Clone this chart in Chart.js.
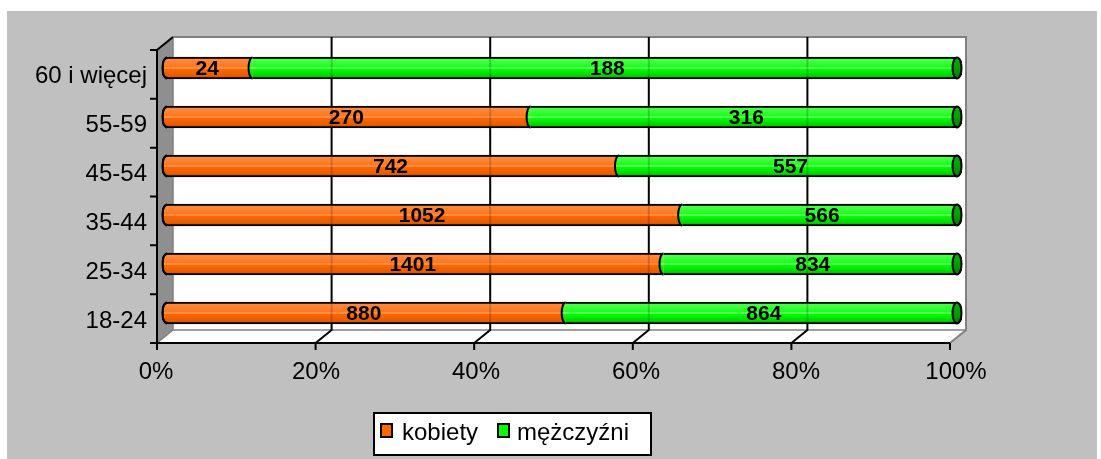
<!DOCTYPE html>
<html>
<head>
<meta charset="utf-8">
<script src="https://cdn.jsdelivr.net/npm/chart.js@4/dist/chart.umd.min.js"></script>
<style>
  html, body { margin: 0; padding: 0; background: #fff; }
  canvas { display: block; }
</style>
</head>
<body>
<canvas id="myChart" width="1101" height="459"></canvas>
<script>
const categories = ['60 i więcej', '55-59', '45-54', '35-44', '25-34', '18-24'];
const kobiety = [24, 270, 742, 1052, 1401, 880];
const mezczyzni = [188, 316, 557, 566, 834, 864];
const xTicks = [0, 20, 40, 60, 80, 100];
const seriesNames = ['kobiety', 'mężczyźni'];

const FONT = '"Liberation Sans", Arial, sans-serif';

// 100% stacked: share of each group in its row
const kobietyPct = kobiety.map((v, i) => v / (v + mezczyzni[i]) * 100);
const mezczyzniPct = mezczyzni.map((v, i) => v / (kobiety[i] + v) * 100);
const rawValues = [kobiety, mezczyzni];

const canvas = document.getElementById('myChart');

function cylinder(ctx, stops, fallback) {
    const chart = ctx.chart;
    if (!chart.chartArea || !chart.scales.y) return fallback;
    const yc = chart.scales.y.getPixelForValue(ctx.dataIndex);
    const g = chart.ctx.createLinearGradient(0, yc - 11, 0, yc + 11);
    stops.forEach(s => g.addColorStop(s[0], s[1]));
    return g;
}

const orangeStops = [[0, '#e85c00'], [0.12, '#ff8a3d'], [0.45, '#ff761f'], [0.5, '#ffa466'], [0.56, '#ff6600'], [0.85, '#e65c00'], [1, '#b84a00']];
const greenStops = [[0, '#00c800'], [0.12, '#4dff4d'], [0.45, '#1aff1a'], [0.5, '#8cff8c'], [0.56, '#00ff00'], [0.85, '#00d400'], [1, '#009c00']];

// geometry of the fake 3D box, taken from the scales
function box(chart) {
    const x = chart.scales.x, a = chart.chartArea;
    const L = x.getPixelForValue(0), R = x.getPixelForValue(100);
    const fx = v => L - 5 + (R - L - 7) * v / 100;
    const bx = v => fx(v) + 16;
    return {
        fx, bx,
        backTop: a.top - 6.5, backBottom: a.bottom - 7.5,
        frontTop: a.top + 6.5, frontBottom: a.bottom + 5.5
    };
}

const backdrop = {
    id: 'backdrop',
    beforeDraw(chart) {
        const c = chart.ctx;
        const b = box(chart);
        c.save();
        c.fillStyle = '#ffffff';
        c.fillRect(0, 0, chart.width, chart.height);
        c.fillStyle = '#c0c0c0';
        c.fillRect(7, 11, 1090, chart.height - 11);

        // back wall
        c.fillStyle = '#ffffff';
        c.fillRect(b.bx(0), b.backTop, b.bx(100) - b.bx(0), b.backBottom - b.backTop);
        // left wall
        c.fillStyle = '#8f8f8f';
        c.beginPath();
        c.moveTo(b.fx(0), b.frontTop);
        c.lineTo(b.bx(0), b.backTop);
        c.lineTo(b.bx(0), b.backBottom);
        c.lineTo(b.fx(0), b.frontBottom);
        c.closePath();
        c.fill();
        // floor
        c.fillStyle = '#ffffff';
        c.beginPath();
        c.moveTo(b.bx(0), b.backBottom);
        c.lineTo(b.bx(100), b.backBottom);
        c.lineTo(b.fx(100), b.frontBottom);
        c.lineTo(b.fx(0), b.frontBottom);
        c.closePath();
        c.fill();

        // grey outline of the box
        c.strokeStyle = '#808080';
        c.lineWidth = 2;
        c.beginPath();
        c.moveTo(b.bx(0), b.backTop);
        c.lineTo(b.bx(100), b.backTop);
        c.lineTo(b.bx(100), b.backBottom);
        c.lineTo(b.fx(100), b.frontBottom);
        c.stroke();
        c.lineWidth = 1.5;
        c.beginPath();
        c.moveTo(b.bx(0), b.backTop);
        c.lineTo(b.bx(0), b.backBottom);
        c.lineTo(b.bx(100), b.backBottom);
        c.moveTo(b.bx(0), b.backBottom);
        c.lineTo(b.fx(0), b.frontBottom);
        c.stroke();

        // gridlines on back wall and floor
        c.strokeStyle = '#000';
        c.lineWidth = 2;
        c.beginPath();
        xTicks.slice(1, -1).forEach(v => {
            c.moveTo(b.bx(v), b.backTop);
            c.lineTo(b.bx(v), b.backBottom);
            c.lineTo(b.fx(v), b.frontBottom);
        });
        c.stroke();

        // front axes
        c.beginPath();
        c.moveTo(b.fx(0), b.frontBottom);
        c.lineTo(b.fx(100), b.frontBottom);
        xTicks.forEach(v => {
            c.moveTo(b.fx(v), b.frontBottom);
            c.lineTo(b.fx(v), b.frontBottom + 7);
        });
        c.moveTo(b.fx(0), b.frontBottom + 7);
        c.lineTo(b.fx(0), b.frontTop);
        c.lineTo(b.bx(0), b.backTop);
        const step = (b.frontBottom - b.frontTop) / categories.length;
        for (let k = 0; k <= categories.length; k++) {
            const yy = b.frontTop + k * step;
            c.moveTo(b.fx(0) - 7, yy);
            c.lineTo(b.fx(0), yy);
        }
        c.stroke();
        c.restore();
    }
};

const barDetails = {
    id: 'barDetails',
    afterDatasetsDraw(chart) {
        const c = chart.ctx;
        const b = box(chart);
        const m0 = chart.getDatasetMeta(0), m1 = chart.getDatasetMeta(1);
        c.save();
        // left end rim of the cylinders
        m0.data.forEach(el => {
            c.beginPath();
            c.ellipse(el.base + 5, el.y, 4.5, 10.5, 0, Math.PI / 2, Math.PI * 1.5);
            c.strokeStyle = '#000';
            c.lineWidth = 2;
            c.stroke();
        });
        m1.data.forEach((el, i) => {
            const yc = el.y, ry = 10.5;
            const g = cylinder({chart, dataIndex: i}, greenStops, '#00ff00');
            // seam between the two parts
            c.beginPath();
            c.ellipse(el.base, yc, 4, ry, 0, Math.PI / 2, Math.PI * 1.5);
            c.closePath();
            c.fillStyle = g;
            c.fill();
            c.beginPath();
            c.ellipse(el.base, yc, 4, ry, 0, Math.PI / 2, Math.PI * 1.5);
            c.strokeStyle = '#000';
            c.lineWidth = 2;
            c.stroke();
            // right end cap
            const cg = c.createLinearGradient(0, yc - ry, 0, yc + ry);
            cg.addColorStop(0, '#00b000');
            cg.addColorStop(0.5, '#00a000');
            cg.addColorStop(1, '#007a00');
            c.beginPath();
            c.ellipse(el.x - 5, yc, 4.5, ry, 0, 0, Math.PI * 2);
            c.fillStyle = cg;
            c.fill();
            c.stroke();
        });
        // gridlines faintly visible through the bars
        c.strokeStyle = 'rgba(0,0,0,0.18)';
        c.lineWidth = 2;
        c.beginPath();
        m1.data.forEach(el => {
            xTicks.slice(1, -1).forEach(v => {
                c.moveTo(b.bx(v), el.y - 9);
                c.lineTo(b.bx(v), el.y + 9);
            });
        });
        c.stroke();
        // value labels
        c.fillStyle = '#000';
        c.font = 'bold 21px ' + FONT;
        c.textAlign = 'center';
        c.textBaseline = 'middle';
        [m0, m1].forEach((meta, d) => {
            meta.data.forEach((el, i) => {
                c.fillText(String(rawValues[d][i]), (el.x + el.base) / 2, el.y + 1);
            });
        });
        c.restore();
    },
    afterDraw(chart) {
        // legend box
        const c = chart.ctx;
        c.save();
        c.fillStyle = '#fff';
        c.fillRect(374, 413, 277, 42);
        c.strokeStyle = '#000';
        c.lineWidth = 2;
        c.strokeRect(374, 413, 277, 42);
        const items = [
            {x: 381, color: '#ff6600', tx: 402},
            {x: 498, color: '#00ff00', tx: 517}
        ];
        c.font = '24px ' + FONT;
        c.textBaseline = 'middle';
        c.textAlign = 'left';
        items.forEach((it, k) => {
            c.fillStyle = it.color;
            c.fillRect(it.x, 424, 11, 13);
            c.strokeRect(it.x, 424, 11, 13);
            c.fillStyle = '#000';
            c.fillText(seriesNames[k], it.tx, 433);
        });
        c.restore();
    }
};

const config = {
    type: 'bar',
    data: {
        labels: categories,
        datasets: [{
            label: seriesNames[0],
            data: kobietyPct,
            backgroundColor: ctx => cylinder(ctx, orangeStops, '#ff6600'),
            borderColor: '#000',
            borderWidth: 2,
            borderSkipped: 'right',
            borderRadius: { topLeft: 7, bottomLeft: 7, topRight: 0, bottomRight: 0 },
            barThickness: 22
        }, {
            label: seriesNames[1],
            data: mezczyzniPct,
            backgroundColor: ctx => cylinder(ctx, greenStops, '#00ff00'),
            borderColor: '#000',
            borderWidth: 2,
            borderSkipped: 'left',
            borderRadius: { topLeft: 0, bottomLeft: 0, topRight: 7, bottomRight: 7 },
            barThickness: 22
        }]
    },
    options: {
        indexAxis: 'y',
        responsive: false,
        animation: false,
        devicePixelRatio: 1,
        layout: {
            padding: { top: 43.5, left: 7, right: 139, bottom: 61.5 }
        },
        plugins: {
            legend: { display: false },
            tooltip: { enabled: false }
        },
        scales: {
            x: {
                stacked: true,
                min: 0,
                max: 100,
                afterFit: s => { s.height = 60; },
                afterBuildTicks: s => { s.ticks = xTicks.map(v => ({ value: v })); },
                grid: { display: false, drawTicks: false },
                border: { display: false },
                ticks: {
                    callback: v => v + '%',
                    labelOffset: -6,
                    padding: 20,
                    maxRotation: 0,
                    color: '#000',
                    font: { family: FONT, size: 24 }
                }
            },
            y: {
                stacked: true,
                afterFit: s => { s.width = 155; },
                grid: { display: false, drawTicks: false },
                border: { display: false },
                ticks: {
                    labelOffset: 8,
                    padding: 15,
                    color: '#000',
                    font: { family: FONT, size: 24 }
                }
            }
        }
    },
    plugins: [backdrop, barDetails]
};

new Chart(canvas, config);
</script>
</body>
</html>
